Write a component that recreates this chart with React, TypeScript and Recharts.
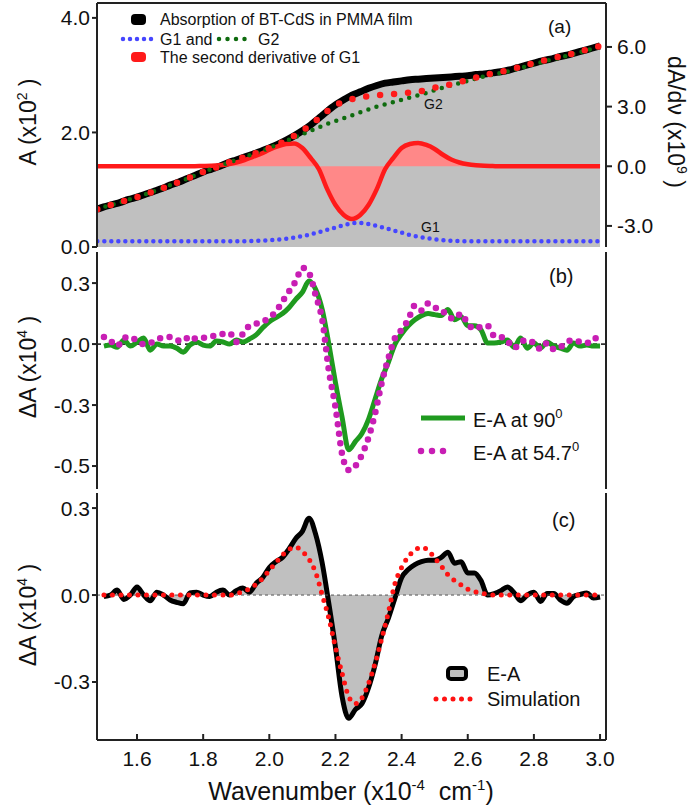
import { ComposedChart, Area, Line, XAxis, YAxis, ReferenceLine } from 'recharts'

const AXIS = '#222'
const TXT = '#111'
const FONT = '"Liberation Sans", Arial, sans-serif'

// shared wavenumber axis (x1e4 cm-1)
const X_DOMAIN = [1.479, 3.018]
const X_TICKS = [1.6, 1.8, 2.0, 2.2, 2.4, 2.6, 2.8, 3.0]

// ---- panel (a): absorption + gaussian fit, 0.025 grid (first point sits on the frame)
const xA = [1.48, ...Array.from({ length: 61 }, (_, i) => +(1.5 + 0.025 * i).toFixed(3))]
const absorption = [
  0.66, 0.7, 0.74, 0.78, 0.83, 0.87, 0.92, 0.97, 1.02, 1.08, 1.13, 1.19, 1.25, 1.31, 1.36, 1.41,
  1.47, 1.52, 1.57, 1.62, 1.67, 1.73, 1.79, 1.86, 1.94, 2.03, 2.13, 2.25, 2.37, 2.48, 2.57, 2.65,
  2.71, 2.77, 2.82, 2.86, 2.88, 2.9, 2.92, 2.93, 2.94, 2.95, 2.96, 2.97, 2.98, 2.99, 3.01, 3.02,
  3.04, 3.06, 3.09, 3.13, 3.17, 3.21, 3.25, 3.28, 3.32, 3.35, 3.39, 3.43, 3.47, 3.51,
]
const fitSum = [
  0.66, 0.7, 0.74, 0.78, 0.83, 0.87, 0.92, 0.97, 1.02, 1.08, 1.13, 1.19, 1.25, 1.31, 1.36, 1.41,
  1.47, 1.52, 1.57, 1.62, 1.67, 1.73, 1.79, 1.86, 1.94, 2.03, 2.13, 2.25, 2.37, 2.48, 2.53, 2.58,
  2.61, 2.635, 2.65, 2.66, 2.67, 2.68, 2.695, 2.71, 2.74, 2.78, 2.81, 2.84, 2.88, 2.92, 2.96, 3.0,
  3.03, 3.06, 3.09, 3.13, 3.17, 3.21, 3.25, 3.28, 3.32, 3.35, 3.39, 3.43, 3.47, 3.51,
]
const g2 = [
  0.66, 0.7, 0.74, 0.78, 0.83, 0.87, 0.92, 0.97, 1.02, 1.08, 1.13, 1.19, 1.25, 1.31, 1.36, 1.41,
  1.47, 1.52, 1.57, 1.62, 1.67, 1.73, 1.79, 1.85, 1.91, 1.97, 2.03, 2.09, 2.15, 2.2, 2.25, 2.3,
  2.35, 2.4, 2.45, 2.49, 2.53, 2.57, 2.61, 2.65, 2.69, 2.74, 2.78, 2.82, 2.86, 2.9, 2.94, 2.98,
  3.01, 3.04, 3.07, 3.11, 3.15, 3.19, 3.23, 3.27, 3.3, 3.34, 3.38, 3.42, 3.46, 3.5,
]
const g1 = [
  0.1, 0.1, 0.1, 0.1, 0.1, 0.1, 0.1, 0.1, 0.1, 0.1, 0.1, 0.1, 0.1, 0.1, 0.1, 0.1, 0.1, 0.1,
  0.1, 0.105, 0.11, 0.12, 0.13, 0.145, 0.165, 0.19, 0.22, 0.26, 0.3, 0.34, 0.38, 0.415, 0.42, 0.4,
  0.37, 0.33, 0.29, 0.25, 0.21, 0.18, 0.155, 0.135, 0.12, 0.11, 0.105,
  0.1, 0.1, 0.1, 0.1, 0.1, 0.1, 0.1, 0.1, 0.1, 0.1, 0.1, 0.1, 0.1, 0.1, 0.1, 0.1, 0.1,
]
const secondDeriv = [
  0, 0, 0, 0, 0, 0, 0, 0, 0, 0, 0, 0, 0.005, 0.01,
  0.02, 0.05, 0.1, 0.19, 0.31, 0.47, 0.63, 0.83, 1.0, 1.12, 1.15, 0.92, 0.42, -0.15, -1.15, -1.95,
  -2.45, -2.65, -2.45, -1.95, -1.15, -0.15, 0.42, 0.92, 1.12, 1.17, 1.07, 0.87, 0.58, 0.34, 0.19,
  0.1, 0.05, 0.02, 0.01,
  0, 0, 0, 0, 0, 0, 0, 0, 0, 0, 0, 0, 0,
]
const A_TICKS = [0, 2, 4]
const DA_TICKS = [-3, 0, 3, 6]

// ---- panels (b) and (c): electroabsorption, 0.02 grid
const xBC = Array.from({ length: 76 }, (_, i) => +(1.5 + 0.02 * i).toFixed(2))
const ea90 = [
  -0.01, -0.005, -0.015, 0.02, -0.01, 0.01, 0.03, -0.03, 0.0, -0.01, -0.01, -0.02, -0.04, -0.005,
  0.01, -0.005, -0.01, 0.015, 0.01, 0.0, 0.02, 0.01, 0.025, 0.045, 0.08, 0.11, 0.13, 0.15, 0.18,
  0.22, 0.255, 0.31, 0.27, 0.17, 0.0, -0.19, -0.36, -0.52, -0.48, -0.44, -0.37, -0.27, -0.17,
  -0.09, 0.0, 0.05, 0.09, 0.12, 0.14, 0.15, 0.145, 0.14, 0.17, 0.12, 0.135, 0.09, 0.09, 0.07,
  0.005, 0.005, 0.01, 0.02, -0.015, 0.03, -0.02, 0.005, -0.02, 0.01, -0.01, -0.02, -0.03, 0.005,
  -0.01, -0.005, -0.01, -0.01,
]
const ea547 = [
  0.035, 0.015, -0.01, 0.03, 0.035, 0.015, 0.0, 0.005, 0.025, 0.03, 0.035, 0.02, 0.015, 0.04,
  0.025, 0.03, 0.04, 0.04, 0.05, 0.055, 0.01, 0.05, 0.09, 0.1, 0.11, 0.13, 0.16, 0.21, 0.26, 0.31,
  0.375, 0.35, 0.24, 0.12, -0.13, -0.31, -0.54, -0.62, -0.6, -0.545, -0.46, -0.34, -0.19, -0.07,
  0.03, 0.07, 0.12, 0.19, 0.165, 0.2, 0.18, 0.17, 0.135, 0.125, 0.15, 0.1, 0.075, 0.085, 0.09,
  0.04, 0.035, 0.015, -0.02, 0.01, 0.02, 0.005, -0.025, 0.005, -0.025, -0.015, 0.01, 0.02, 0.01,
  0.005, 0.03, 0.02,
]
const eaC = [
  -0.005, 0.0, 0.017, -0.015, 0.0, 0.028, 0.0, -0.02, 0.01, 0.0, -0.017, -0.025, -0.03, 0.007,
  0.01, 0.0, -0.005, 0.01, 0.017, 0.0, 0.015, 0.024, 0.01, 0.04, 0.06, 0.095, 0.115, 0.13, 0.16,
  0.195, 0.22, 0.265, 0.21, 0.11, -0.03, -0.18, -0.35, -0.425, -0.395, -0.375, -0.32, -0.24,
  -0.14, -0.08, -0.01, 0.06, 0.088, 0.105, 0.115, 0.12, 0.12, 0.13, 0.148, 0.11, 0.115, 0.076,
  0.076, 0.05, 0.0, 0.005, 0.015, 0.028, 0.008, -0.02, 0.0, 0.01, -0.022, 0.005, 0.005, -0.017,
  -0.028, -0.005, 0.002, 0.007, -0.01, -0.007,
]
const simulation = [
  0, 0, 0, 0, 0, 0, 0, 0, 0, 0, 0, 0, 0, 0, 0, 0, 0, 0, 0, 0,
  0.005, 0.012, 0.022, 0.037, 0.058, 0.085, 0.112, 0.138, 0.158, 0.165, 0.15, 0.124, 0.078, 0.0,
  -0.08, -0.18, -0.27, -0.35, -0.375, -0.355, -0.305, -0.235, -0.15, -0.06, 0.04, 0.095, 0.132,
  0.155, 0.165, 0.155, 0.128, 0.1, 0.07, 0.05, 0.035, 0.02, 0.012, 0.006, 0.003,
  0, 0, 0, 0, 0, 0, 0, 0, 0, 0, 0, 0, 0, 0, 0, 0, 0, 0,
]
const B_TICKS = [0.3, 0, -0.3, -0.6]
const B_TICK_LABELS = ['0.3', '0.0', '-0.3', '-0.5']
const C_TICKS = [0.3, 0, -0.3]

const rowsA = xA.map((x, i) => ({
  x, abs: absorption[i], sum: fitSum[i], g1: g1[i], g2: g2[i], d2: secondDeriv[i],
}))
const rowsBC = xBC.map((x, i) => ({
  x, ea90: ea90[i], ea547: ea547[i], eaC: eaC[i], sim: simulation[i],
}))

const axisLine = { stroke: AXIS, strokeWidth: 2 }
const tickText = { fontSize: 21, fill: TXT }

// inward tick marks on the bottom frame, labels only on the last panel
function BottomTick(props: any) {
  const { x, y, payload, labels } = props
  return (
    <g>
      <line x1={x} x2={x} y1={y} y2={y - 6} stroke={AXIS} strokeWidth={2} />
      {labels && (
        <text x={x} y={y + 26} textAnchor="middle" fontSize={21} fill={TXT}>
          {Number(payload.value).toFixed(1)}
        </text>
      )}
    </g>
  )
}

function PanelA() {
  // extra bottom margin so the "0.0" label is not clipped
  return (
    <ComposedChart width={700} height={262} data={rowsA} margin={{ top: 3, right: 0, bottom: 15, left: 0 }}>
      <XAxis dataKey="x" type="number" domain={X_DOMAIN} allowDataOverflow ticks={X_TICKS}
        tick={false} tickLine={false} height={0} axisLine={axisLine} />
      <YAxis yAxisId="l" type="number" domain={[0, 4.26]} allowDataOverflow ticks={A_TICKS} interval={0}
        width={97} tickSize={5} tickMargin={2} tick={tickText} tickLine={axisLine} axisLine={axisLine}
        tickFormatter={(v: number) => v.toFixed(1)} />
      <YAxis yAxisId="r" orientation="right" type="number" domain={[-4.06, 8.21]} allowDataOverflow
        ticks={DA_TICKS} interval={0} width={94} tickSize={6} tickMargin={5} tick={tickText}
        tickLine={axisLine} axisLine={axisLine} tickFormatter={(v: number) => v.toFixed(1)} />
      <ReferenceLine yAxisId="l" y={4.26} stroke={AXIS} strokeWidth={2} />
      <Area yAxisId="l" dataKey="abs" type="monotone" baseValue={0} fill="#c0c0c0" fillOpacity={1}
        stroke="#000" strokeWidth={7} isAnimationActive={false} />
      <Area yAxisId="r" dataKey="d2" type="monotone" baseValue={0} fill="#ff8888" fillOpacity={1}
        stroke="#ff1a1a" strokeWidth={4.5} isAnimationActive={false} />
      <Line yAxisId="l" dataKey="g1" type="monotone" stroke="#4646ff" strokeWidth={4.5}
        strokeDasharray="0 7" strokeLinecap="round" dot={false} isAnimationActive={false} />
      <Line yAxisId="l" dataKey="g2" type="monotone" stroke="#0e6b0e" strokeWidth={4.5}
        strokeDasharray="0 8.5" strokeLinecap="round" dot={false} isAnimationActive={false} />
      <Line yAxisId="l" dataKey="sum" type="monotone" stroke="#ff1a1a" strokeWidth={6.5}
        strokeDasharray="0 14" strokeLinecap="round" dot={false} isAnimationActive={false} />
    </ComposedChart>
  )
}

function PanelB() {
  return (
    <ComposedChart width={700} height={242} data={rowsBC} margin={{ top: 2, right: 94, bottom: 3, left: 0 }}>
      <XAxis dataKey="x" type="number" domain={X_DOMAIN} allowDataOverflow ticks={X_TICKS} interval={0}
        height={0} tickSize={0} tickMargin={0} tickLine={false} axisLine={axisLine}
        tick={(p: any) => <BottomTick {...p} />} />
      <YAxis yAxisId="l" type="number" domain={[-0.713, 0.453]} allowDataOverflow ticks={B_TICKS}
        interval={0} width={97} tickSize={5} tickMargin={2} tick={tickText} tickLine={axisLine}
        axisLine={axisLine} tickFormatter={(v: number) => B_TICK_LABELS[B_TICKS.indexOf(v)]} />
      <ReferenceLine yAxisId="l" x={X_DOMAIN[1]} stroke={AXIS} strokeWidth={2} />
      <ReferenceLine yAxisId="l" y={0} stroke="#333" strokeWidth={1.8} strokeDasharray="4 4" />
      <Line yAxisId="l" dataKey="ea90" type="monotone" stroke="#1f9a1f" strokeWidth={5}
        dot={false} isAnimationActive={false} />
      <Line yAxisId="l" dataKey="ea547" type="monotone" stroke="#c81eb4" strokeWidth={6.5}
        strokeDasharray="0 9.5" strokeLinecap="round" dot={false} isAnimationActive={false} />
    </ComposedChart>
  )
}

function PanelC() {
  return (
    <ComposedChart width={700} height={318} data={rowsBC} margin={{ top: 3, right: 94, bottom: 0, left: 0 }}>
      <XAxis dataKey="x" type="number" domain={X_DOMAIN} allowDataOverflow ticks={X_TICKS} interval={0}
        height={68} tickSize={0} tickMargin={0} tickLine={false} axisLine={axisLine}
        tick={(p: any) => <BottomTick {...p} labels />} />
      <YAxis yAxisId="l" type="number" domain={[-0.5, 0.352]} allowDataOverflow ticks={C_TICKS}
        interval={0} width={97} tickSize={5} tickMargin={2} tick={tickText} tickLine={axisLine}
        axisLine={axisLine} tickFormatter={(v: number) => v.toFixed(1)} />
      <ReferenceLine yAxisId="l" x={X_DOMAIN[1]} stroke={AXIS} strokeWidth={2} />
      <Area yAxisId="l" dataKey="eaC" type="monotone" baseValue={0} fill="#c0c0c0" fillOpacity={1}
        stroke="#000" strokeWidth={5} isAnimationActive={false} />
      <ReferenceLine yAxisId="l" y={0} stroke="#555" strokeWidth={1} strokeDasharray="3 3" />
      <Line yAxisId="l" dataKey="sim" type="monotone" stroke="#ff1212" strokeWidth={5}
        strokeDasharray="0 8.5" strokeLinecap="round" dot={false} isAnimationActive={false} />
    </ComposedChart>
  )
}

// titles, legends and panel letters
function Overlay() {
  const dotted = { strokeLinecap: 'round' as const }
  return (
    <svg width={700} height={808} style={{ position: 'absolute', left: 0, top: 0, pointerEvents: 'none' }}>
      <g fill={TXT}>
        <text transform="translate(36,122) rotate(-90)" textAnchor="middle" fontSize={23}>
          A (x10<tspan dy={-9} fontSize={14}>2</tspan><tspan dy={9}>{'\u00a0)'}</tspan>
        </text>
        <text transform="translate(36,367) rotate(-90)" textAnchor="middle" fontSize={23}>
          ΔA (x10<tspan dy={-9} fontSize={14}>4</tspan><tspan dy={9}>{'\u00a0)'}</tspan>
        </text>
        <text transform="translate(36,615) rotate(-90)" textAnchor="middle" fontSize={23}>
          ΔA (x10<tspan dy={-9} fontSize={14}>4</tspan><tspan dy={9}>{'\u00a0)'}</tspan>
        </text>
        <text transform="translate(668,122) rotate(90)" textAnchor="middle" fontSize={23}>
          dA/dν (x10<tspan dy={-9} fontSize={14}>9</tspan><tspan dy={9}>{'\u00a0)'}</tspan>
        </text>
        <text x={351} y={800} textAnchor="middle" fontSize={25}>
          Wavenumber (x10<tspan dy={-10} fontSize={15}>-4</tspan>
          <tspan dy={10}>{'\u00a0\u00a0cm'}</tspan><tspan dy={-10} fontSize={15}>-1</tspan><tspan dy={10}>)</tspan>
        </text>

        {/* panel (a) */}
        <rect x={131} y={14} width={15} height={11} rx={4} fill="#000" />
        <text x={160} y={25} fontSize={16}>Absorption of BT-CdS in PMMA film</text>
        <line x1={123} x2={153} y1={39} y2={39} stroke="#4646ff" strokeWidth={4.5} strokeDasharray="0 7" {...dotted} />
        <text x={160} y={45} fontSize={16}>G1 and</text>
        <line x1={219} x2={248} y1={39} y2={39} stroke="#0e6b0e" strokeWidth={4.5} strokeDasharray="0 8.5" {...dotted} />
        <text x={258} y={45} fontSize={16}>G2</text>
        <rect x={131} y={52} width={15} height={10} rx={4} fill="#ff1a1a" />
        <text x={160} y={63} fontSize={16}>The second derivative of G1</text>
        <text x={548} y={33} fontSize={19}>(a)</text>
        <text x={424} y={109} fontSize={14}>G2</text>
        <text x={421} y={232} fontSize={14}>G1</text>

        {/* panel (b) */}
        <text x={549} y={283} fontSize={20}>(b)</text>
        <line x1={421} x2={465} y1={418} y2={418} stroke="#1f9a1f" strokeWidth={5} />
        <text x={473} y={427} fontSize={20}>
          E-A at 90<tspan dy={-9} fontSize={13}>0</tspan>
        </text>
        <line x1={421} x2={454} y1={451} y2={451} stroke="#c81eb4" strokeWidth={6.5} strokeDasharray="0 11" {...dotted} />
        <text x={473} y={460} fontSize={20}>
          E-A at 54.7<tspan dy={-9} fontSize={13}>0</tspan>
        </text>

        {/* panel (c) */}
        <text x={552} y={527} fontSize={20}>(c)</text>
        <rect x={448} y={668} width={18} height={11} rx={3} fill="#c0c0c0" stroke="#000" strokeWidth={4} />
        <text x={487} y={681} fontSize={20}>E-A</text>
        <line x1={436} x2={475} y1={699} y2={699} stroke="#ff1212" strokeWidth={5} strokeDasharray="0 8.5" {...dotted} />
        <text x={487} y={706} fontSize={20}>Simulation</text>
      </g>
    </svg>
  )
}

export default function App() {
  return (
    <div style={{ position: 'absolute', left: 0, top: 0, width: 700, height: 808, background: '#fff', fontFamily: FONT }}>
      <div style={{ position: 'absolute', left: 0, top: 0 }}>
        <PanelA />
      </div>
      <div style={{ position: 'absolute', left: 0, top: 250 }}>
        <PanelB />
      </div>
      <div style={{ position: 'absolute', left: 0, top: 490 }}>
        <PanelC />
      </div>
      <Overlay />
    </div>
  )
}
